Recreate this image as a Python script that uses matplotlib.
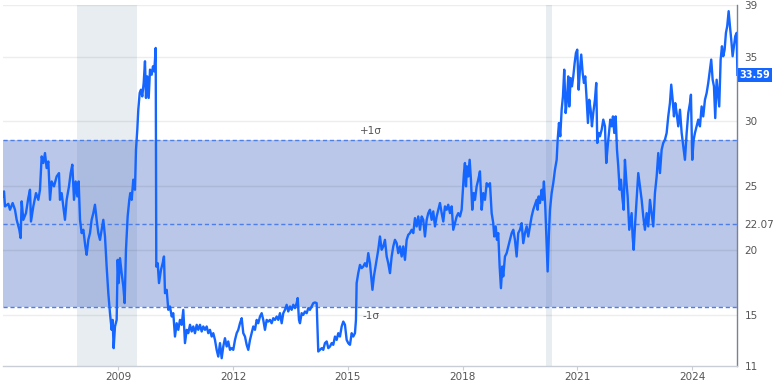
import matplotlib
matplotlib.use("Agg")
import matplotlib.pyplot as plt

# ---------------- data ----------------
years = [
 2005.979,2006.014,2006.040,2006.127,2006.170,2006.240,2006.301,2006.345,2006.414,2006.449,
 2006.475,2006.519,2006.588,2006.649,2006.693,2006.719,2006.780,2006.850,2006.911,2006.954,
 2006.998,2007.041,2007.085,2007.128,2007.172,2007.216,2007.259,2007.320,2007.390,2007.451,
 2007.477,2007.520,2007.564,2007.607,2007.651,2007.712,2007.756,2007.799,2007.843,2007.886,
 2007.930,2007.965,2008.000,2008.043,2008.087,2008.139,2008.174,2008.217,2008.261,2008.304,
 2008.348,2008.391,2008.435,2008.478,2008.522,2008.566,2008.609,2008.653,2008.696,2008.740,
 2008.783,2008.827,2008.853,2008.879,2008.914,2008.958,2008.984,2009.010,2009.045,2009.088,
 2009.132,2009.167,2009.201,2009.245,2009.288,2009.314,2009.350,2009.392,2009.436,2009.463,
 2009.497,2009.523,2009.560,2009.593,2009.627,2009.664,2009.698,2009.724,2009.758,2009.795,
 2009.829,2009.873,2009.907,2009.941,2009.978,2009.993,2010.030,2010.064,2010.116,2010.160,
 2010.194,2010.221,2010.265,2010.307,2010.351,2010.396,2010.437,2010.482,2010.526,2010.568,
 2010.612,2010.657,2010.699,2010.743,2010.788,2010.829,2010.874,2010.918,2010.960,2011.004,
 2011.049,2011.091,2011.135,2011.179,2011.221,2011.266,2011.310,2011.352,2011.396,2011.441,
 2011.482,2011.527,2011.571,2011.613,2011.658,2011.702,2011.744,2011.788,2011.833,2011.874,
 2011.919,2011.963,2012.005,2012.050,2012.094,2012.136,2012.180,2012.225,2012.267,2012.311,
 2012.355,2012.397,2012.442,2012.486,2012.528,2012.572,2012.617,2012.658,2012.703,2012.747,
 2012.789,2012.833,2012.878,2012.920,2012.964,2013.008,2013.050,2013.095,2013.139,2013.181,
 2013.225,2013.270,2013.312,2013.356,2013.400,2013.442,2013.487,2013.531,2013.573,2013.617,
 2013.662,2013.688,2013.722,2013.748,2013.792,2013.834,2013.879,2013.923,2013.965,2014.009,
 2014.054,2014.096,2014.140,2014.184,2014.226,2014.271,2014.315,2014.357,2014.401,2014.446,
 2014.488,2014.532,2014.576,2014.618,2014.663,2014.707,2014.749,2014.793,2014.838,2014.880,
 2014.924,2014.968,2015.010,2015.055,2015.099,2015.141,2015.185,2015.211,2015.229,2015.271,
 2015.316,2015.360,2015.402,2015.446,2015.491,2015.533,2015.577,2015.642,2015.681,2015.752,
 2015.794,2015.838,2015.883,2015.925,2015.969,2016.014,2016.055,2016.100,2016.144,2016.186,
 2016.230,2016.275,2016.317,2016.361,2016.405,2016.447,2016.492,2016.536,2016.578,2016.622,
 2016.667,2016.709,2016.753,2016.797,2016.839,2016.884,2016.928,2016.970,2017.014,2017.059,
 2017.101,2017.145,2017.189,2017.231,2017.276,2017.320,2017.362,2017.406,2017.451,2017.493,
 2017.537,2017.581,2017.623,2017.668,2017.712,2017.754,2017.798,2017.843,2017.885,2017.929,
 2017.973,2018.000,2018.033,2018.059,2018.086,2018.112,2018.146,2018.182,2018.216,2018.250,
 2018.287,2018.321,2018.365,2018.407,2018.451,2018.496,2018.538,2018.582,2018.627,2018.668,
 2018.713,2018.757,2018.799,2018.825,2018.862,2018.896,2018.929,2018.966,2019.000,2019.034,
 2019.060,2019.105,2019.149,2019.191,2019.235,2019.280,2019.322,2019.366,2019.410,2019.452,
 2019.497,2019.541,2019.583,2019.627,2019.672,2019.713,2019.758,2019.802,2019.844,2019.889,
 2019.933,2019.959,2019.985,2020.019,2020.063,2020.090,2020.123,2020.158,2020.194,2020.220,
 2020.254,2020.281,2020.325,2020.367,2020.411,2020.456,2020.482,2020.516,2020.550,2020.586,
 2020.620,2020.654,2020.691,2020.725,2020.759,2020.785,2020.822,2020.856,2020.890,2020.926,
 2020.960,2020.994,2021.030,2021.064,2021.098,2021.135,2021.169,2021.203,2021.240,2021.273,
 2021.307,2021.344,2021.378,2021.412,2021.456,2021.490,2021.517,2021.553,2021.587,2021.632,
 2021.674,2021.718,2021.752,2021.789,2021.823,2021.857,2021.893,2021.927,2021.961,2021.998,
 2022.032,2022.066,2022.102,2022.136,2022.170,2022.207,2022.240,2022.274,2022.311,2022.353,
 2022.415,2022.441,2022.468,2022.502,2022.546,2022.588,2022.632,2022.677,2022.719,2022.763,
 2022.807,2022.849,2022.894,2022.938,2022.980,2023.024,2023.069,2023.111,2023.155,2023.199,
 2023.241,2023.286,2023.330,2023.372,2023.416,2023.450,2023.487,2023.521,2023.555,2023.591,
 2023.633,2023.678,2023.722,2023.764,2023.808,2023.853,2023.895,2023.939,2023.965,2023.999,
 2024.036,2024.070,2024.114,2024.156,2024.200,2024.244,2024.286,2024.331,2024.375,2024.417,
 2024.461,2024.495,2024.532,2024.566,2024.600,2024.636,2024.671,2024.704,2024.741,2024.775,
 2024.809,2024.845,2024.879,2024.913,2024.950,2024.984,2025.018,2025.054,2025.088,2025.123,
 2025.159,2025.180,
]
values = [
 24.17,24.56,23.40,23.60,23.14,23.66,23.14,22.36,21.59,20.95,
 23.79,22.36,22.88,24.05,24.69,22.23,23.40,24.43,23.91,24.69,
 27.27,26.76,27.53,26.37,26.88,23.91,25.33,24.95,25.72,25.98,
 23.91,24.43,23.40,22.36,23.91,24.95,25.98,26.63,23.91,25.33,
 24.17,25.33,22.36,21.33,21.59,20.30,19.65,20.81,21.33,22.36,
 22.88,23.53,22.36,21.33,20.81,21.59,22.36,21.07,18.74,16.68,
 15.13,13.84,14.61,12.42,14.10,14.61,19.26,17.46,19.39,18.23,
 17.20,15.91,20.04,22.62,23.91,24.43,23.91,25.47,24.69,27.79,
 29.34,30.89,32.19,32.44,31.92,32.96,34.64,31.80,33.47,31.80,
 33.99,33.60,34.25,33.86,35.67,18.74,19.00,17.46,18.49,19.00,
 19.52,16.68,16.94,15.39,15.65,14.87,15.13,13.32,14.35,13.84,
 14.61,14.23,15.39,12.81,13.84,13.58,14.23,13.71,14.10,13.58,
 14.23,13.84,14.23,13.71,14.10,13.84,14.10,13.58,13.84,13.32,
 13.58,13.06,12.29,11.77,12.81,11.64,12.55,13.19,12.55,12.94,
 12.29,12.42,12.29,13.06,13.58,13.84,14.35,14.74,13.58,13.32,
 12.68,12.29,13.06,13.58,14.10,13.84,14.61,14.35,14.87,15.13,
 14.61,13.84,14.61,14.48,14.61,14.35,14.74,14.61,14.87,14.61,
 15.13,14.35,15.13,15.39,15.78,15.26,15.65,15.39,15.78,15.52,
 15.91,16.30,14.61,14.35,15.13,15.00,15.26,15.13,15.52,15.39,
 15.65,15.91,15.96,15.91,12.16,12.29,12.42,12.29,12.81,12.94,
 12.42,12.55,12.81,12.68,13.32,13.06,13.58,13.32,14.10,14.48,
 14.23,13.06,12.81,12.68,13.58,13.32,13.58,14.61,17.46,18.23,
 18.87,18.62,18.74,19.00,18.74,19.78,19.00,16.94,18.00,19.26,
 20.04,21.07,20.04,20.30,20.81,19.52,19.00,18.23,19.52,20.30,
 20.81,20.55,19.78,20.30,19.52,20.30,19.26,20.81,21.20,21.33,
 21.59,21.33,22.49,21.85,22.62,21.59,22.62,22.36,21.07,22.36,
 22.88,23.14,22.36,23.01,21.85,22.62,23.14,23.66,22.88,22.23,
 23.40,23.14,23.53,22.88,23.40,21.59,22.10,22.62,22.88,22.62,
 23.14,24.43,25.98,26.76,24.95,26.50,25.72,27.01,25.47,23.14,
 24.43,23.91,24.95,25.47,26.11,23.14,24.43,23.91,25.20,24.95,
 25.20,22.88,22.10,21.07,21.85,20.81,21.33,18.74,17.07,18.74,
 17.98,19.52,19.78,20.30,20.81,21.33,21.59,20.81,19.52,21.33,
 21.59,22.10,20.55,21.33,21.85,21.07,21.85,22.62,23.14,23.53,
 23.91,23.14,24.17,23.66,24.69,23.91,25.33,23.40,20.55,18.36,
 21.33,23.14,24.43,25.20,26.24,27.01,28.57,29.86,28.83,30.89,
 31.92,33.99,30.63,31.66,33.47,31.14,33.34,32.70,33.47,34.51,
 35.29,35.54,32.44,33.99,35.16,33.73,32.96,33.47,31.66,29.86,
 31.66,30.89,29.60,30.63,31.66,32.96,28.31,29.09,28.83,29.34,
 30.12,29.60,26.76,28.06,29.09,30.12,29.60,30.37,29.09,30.37,
 27.79,26.50,24.69,25.47,24.17,23.14,27.01,25.47,24.17,21.59,
 22.88,21.07,20.04,21.85,23.91,25.98,24.95,23.91,22.62,21.59,
 22.88,21.85,23.91,22.88,21.85,24.43,25.72,27.53,25.98,27.79,
 28.31,28.57,29.09,30.37,31.40,32.83,31.66,30.37,31.40,30.63,
 29.60,30.89,29.09,28.06,27.01,29.09,30.63,31.40,32.05,27.01,
 28.57,29.09,29.60,30.12,29.60,31.14,30.37,31.66,32.18,32.96,
 33.99,34.77,33.21,32.70,30.24,33.21,32.18,31.14,34.77,35.80,
 35.03,35.54,36.84,37.36,38.52,37.36,36.32,35.03,35.80,36.58,
 36.84,33.59,
]

mean_value = 22.07
sigma = 6.45
last_value = 33.59
recessions = [(2007.92, 2009.50), (2020.17, 2020.33)]
year_ticks = [2009, 2012, 2015, 2018, 2021, 2024]
y_ticks = [11, 15, 20, 25, 30, 35, 39]
x_range = (2005.98, 2025.18)
y_range = (11, 39)

# ---------------- figure ----------------
fig = plt.figure(figsize=(7.73, 3.83), dpi=100)
ax = fig.add_axes([0.0035, 0.0431, 0.9505, 0.9439])

ax.set_xlim(*x_range)
ax.set_ylim(*y_range)

# recession shading
for a, b in recessions:
    ax.axvspan(a, b, color="#e8edf2", zorder=0, lw=0)

# +/- 1 sigma band
ax.axhspan(mean_value - sigma, mean_value + sigma, color=(0.33, 0.45, 0.78),
           alpha=0.40, lw=0, zorder=1)

# gridlines
for g in [15, 20, 25, 30, 35, 39]:
    ax.axhline(g, color="black", alpha=0.07, lw=1.0, zorder=2)

# dashed lines
for lvl in [mean_value - sigma, mean_value, mean_value + sigma]:
    ax.axhline(lvl, color="#4d7fe6", lw=1.0, ls=(0, (3, 2)), zorder=3)

# main line
ax.plot(years, values, color="#1565ff", lw=1.7, zorder=4, solid_joinstyle="round")

# sigma labels
ax.text(2015.6, mean_value + sigma + 0.35, "+1σ", ha="center", va="bottom",
        fontsize=7.5, color="#555555", zorder=5)
ax.text(2015.6, mean_value - sigma - 0.35, "-1σ", ha="center", va="top",
        fontsize=7.5, color="#555555", zorder=5)

# axes styling
for s in ["top", "left"]:
    ax.spines[s].set_visible(False)
ax.spines["right"].set_color("#7b8190")
ax.spines["right"].set_linewidth(1.0)
ax.spines["bottom"].set_color("#c9cdd6")
ax.spines["bottom"].set_linewidth(1.0)

ax.set_xticks(year_ticks)
ax.set_xticklabels([str(y) for y in year_ticks])
ax.tick_params(axis="x", length=3, color="#c9cdd6", labelsize=7.5,
               labelcolor="#555555", pad=1)

ax.yaxis.tick_right()
ax.set_yticks(y_ticks + [mean_value])
ax.set_yticklabels([str(v) for v in y_ticks] + [f"{mean_value:.2f}"])
ax.tick_params(axis="y", length=0, labelsize=7.5, labelcolor="#555555", pad=5)

# last value box
ax.annotate(f"{last_value:.2f}", xy=(1.0, last_value),
            xycoords=("axes fraction", "data"),
            xytext=(1.5, 0), textcoords="offset points",
            ha="left", va="center", fontsize=7, fontweight="bold", color="white",
            bbox=dict(boxstyle="square,pad=0.2", fc="#1565ff", ec="none"),
            annotation_clip=False, zorder=6)

fig.savefig("out.png", dpi=100)
